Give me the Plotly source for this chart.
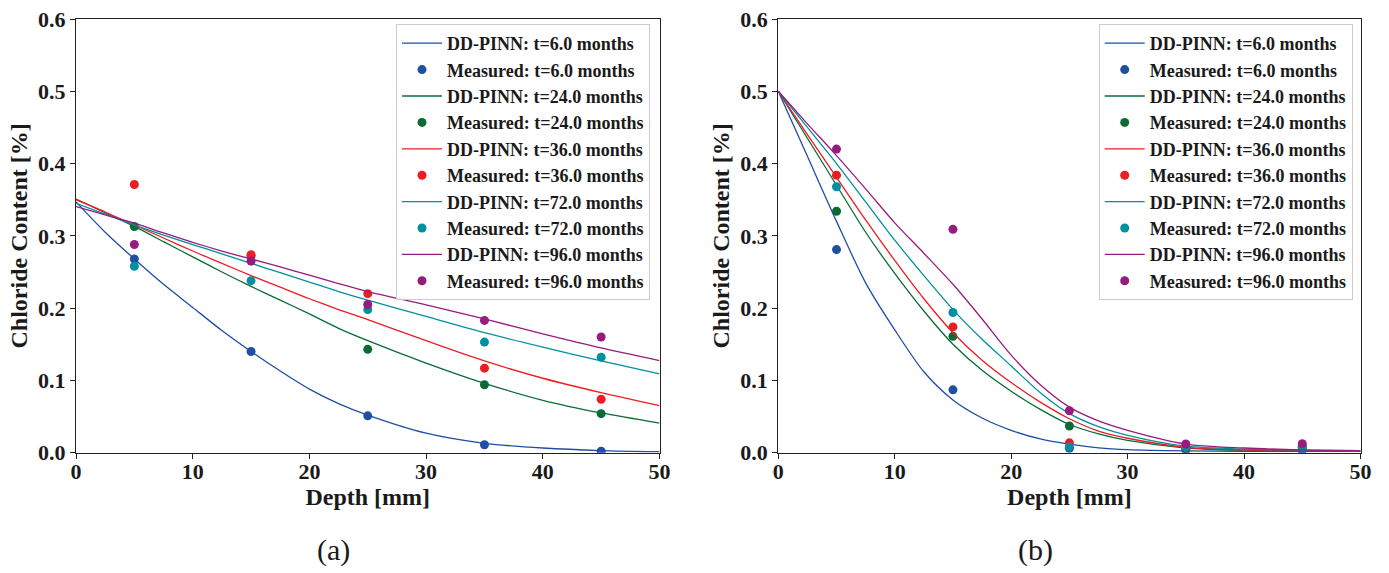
import plotly.graph_objects as go
from plotly.subplots import make_subplots

# ---------------------------------------------------------------- data
times = ["6.0", "24.0", "36.0", "72.0", "96.0"]
colors = ["#1f4fa3", "#0b6b34", "#ee1c25", "#0090a0", "#961c7e"]

depth_measured = [5, 15, 25, 35, 45]

# (a) DD-PINN profiles
depth_a = [0, 2.5, 5, 7.5, 10, 12.5, 15, 17.5, 20, 22.5, 25, 30, 35, 40, 45, 50]
pinn_a_6 = [0.347, 0.305, 0.268, 0.233, 0.201, 0.169, 0.140, 0.113, 0.088, 0.068, 0.052, 0.027, 0.013, 0.0065, 0.003, 0.0015]
pinn_a_24 = [0.351, 0.332, 0.313, 0.292, 0.271, 0.250, 0.230, 0.211, 0.192, 0.172, 0.155, 0.124, 0.096, 0.0725, 0.055, 0.041]
pinn_a_36 = [0.350, 0.333, 0.315, 0.297, 0.279, 0.262, 0.245, 0.229, 0.213, 0.198, 0.184, 0.155, 0.127, 0.103, 0.083, 0.065]
pinn_a_72 = [0.345, 0.330, 0.315, 0.301, 0.288, 0.275, 0.262, 0.249, 0.236, 0.223, 0.211, 0.1885, 0.166, 0.146, 0.127, 0.109]
pinn_a_96 = [0.3405, 0.329, 0.3175, 0.304, 0.291, 0.279, 0.268, 0.257, 0.2455, 0.234, 0.223, 0.2046, 0.185, 0.1645, 0.145, 0.1275]

# (a) measured chloride content
meas_a_6 = [0.268, 0.140, 0.051, 0.011, 0.002]
meas_a_24 = [0.313, 0.272, 0.143, 0.094, 0.054]
meas_a_36 = [0.371, 0.274, 0.220, 0.117, 0.074]
meas_a_72 = [0.258, 0.238, 0.198, 0.153, 0.132]
meas_a_96 = [0.288, 0.265, 0.205, 0.183, 0.160]

# (b) DD-PINN profiles
depth_b = [0, 2.5, 5, 7.5, 10, 12.5, 15, 17.5, 20, 22.5, 25, 27.5, 30, 35, 40, 45, 50]
pinn_b_6 = [0.500, 0.410, 0.320, 0.235, 0.170, 0.112, 0.073, 0.048, 0.031, 0.019, 0.0118, 0.0068, 0.0042, 0.0025, 0.002, 0.002, 0.002]
pinn_b_24 = [0.500, 0.435, 0.370, 0.305, 0.248, 0.196, 0.150, 0.114, 0.085, 0.060, 0.039, 0.026, 0.017, 0.0065, 0.0035, 0.003, 0.0025]
pinn_b_36 = [0.500, 0.440, 0.381, 0.322, 0.266, 0.213, 0.166, 0.128, 0.097, 0.070, 0.047, 0.030, 0.020, 0.0075, 0.004, 0.003, 0.0025]
pinn_b_72 = [0.500, 0.450, 0.400, 0.347, 0.294, 0.245, 0.198, 0.157, 0.120, 0.083, 0.054, 0.036, 0.024, 0.009, 0.005, 0.0035, 0.003]
pinn_b_96 = [0.500, 0.455, 0.411, 0.365, 0.318, 0.276, 0.233, 0.185, 0.135, 0.094, 0.063, 0.044, 0.031, 0.012, 0.0065, 0.004, 0.003]

# (b) measured chloride content
meas_b_6 = [0.281, 0.087, 0.006, 0.0035, 0.003]
meas_b_24 = [0.334, 0.161, 0.037, 0.006, 0.007]
meas_b_36 = [0.384, 0.174, 0.0136, 0.007, 0.008]
meas_b_72 = [0.368, 0.194, 0.008, 0.008, 0.009]
meas_b_96 = [0.420, 0.309, 0.058, 0.012, 0.0125]

x_ticks = [0, 10, 20, 30, 40, 50]
y_ticks = [0.0, 0.1, 0.2, 0.3, 0.4, 0.5, 0.6]

pinn_a = [pinn_a_6, pinn_a_24, pinn_a_36, pinn_a_72, pinn_a_96]
meas_a = [meas_a_6, meas_a_24, meas_a_36, meas_a_72, meas_a_96]
pinn_b = [pinn_b_6, pinn_b_24, pinn_b_36, pinn_b_72, pinn_b_96]
meas_b = [meas_b_6, meas_b_24, meas_b_36, meas_b_72, meas_b_96]

# ---------------------------------------------------------------- figure
SERIF = "Liberation Serif, Times New Roman, serif"
W, H = 1389, 573

fig = make_subplots(rows=1, cols=2)


def add_panel(col, depth, pinn, meas, legend_name):
    for t, c, yl, ym in zip(times, colors, pinn, meas):
        fig.add_trace(go.Scatter(
            x=depth, y=yl, mode="lines",
            line=dict(color=c, width=1.3, shape="spline", smoothing=0.8),
            name=f"DD-PINN: t={t} months", legend=legend_name,
        ), row=1, col=col)
        fig.add_trace(go.Scatter(
            x=depth_measured, y=ym, mode="markers",
            marker=dict(color=c, size=9),
            name=f"Measured: t={t} months", legend=legend_name,
        ), row=1, col=col)


add_panel(1, depth_a, pinn_a, meas_a, "legend")
add_panel(2, depth_b, pinn_b, meas_b, "legend2")

# plot-area placement in figure pixels
y_dom = [(H - 452.7) / H, (H - 19) / H]
x_dom_a = [76 / W, 659.5 / W]
x_dom_b = [778.3 / W, 1360.5 / W]

axis_common = dict(
    showline=True, mirror=True, linecolor="#222", linewidth=1.3,
    ticks="outside", ticklen=5, tickwidth=1.2, tickcolor="#222",
    showgrid=False, zeroline=False, automargin=False,
    tickfont=dict(family=SERIF, size=22, color="#1a1a1a", weight="bold"),
)
title_font = dict(family=SERIF, size=24, color="#1a1a1a", weight="bold")

for i, dom in ((1, x_dom_a), (2, x_dom_b)):
    fig.update_xaxes(
        domain=dom, range=[0, 50], tickvals=x_ticks, ticklabelstandoff=-6,
        title=dict(text="Depth [mm]", font=title_font, standoff=0),
        row=1, col=i, **axis_common,
    )
    fig.update_yaxes(
        domain=y_dom, range=[0, 0.6], tickvals=y_ticks, tickformat=".1f",
        title=dict(text="Chloride Content [%]", font=title_font, standoff=3),
        row=1, col=i, **axis_common,
    )

legend_style = dict(
    xanchor="right", yanchor="top",
    bgcolor="rgba(255,255,255,0.85)", bordercolor="#cccccc", borderwidth=1,
    font=dict(family=SERIF, size=18, color="#1a1a1a", weight="bold"),
    tracegroupgap=0, itemwidth=40,
)

fig.update_layout(
    width=W, height=H,
    margin=dict(l=0, r=0, t=0, b=0),
    paper_bgcolor="white", plot_bgcolor="white",
    showlegend=True,
    legend=dict(x=650 / W, y=(H - 24) / H, **legend_style),
    legend2=dict(x=1352.7 / W, y=(H - 24) / H, **legend_style),
    annotations=[
        dict(text="(a)", x=333 / W, y=(H - 550) / H, xref="paper", yref="paper",
             showarrow=False, xanchor="center", yanchor="middle",
             font=dict(family=SERIF, size=30, color="#1a1a1a")),
        dict(text="(b)", x=1035 / W, y=(H - 550) / H, xref="paper", yref="paper",
             showarrow=False, xanchor="center", yanchor="middle",
             font=dict(family=SERIF, size=30, color="#1a1a1a")),
    ],
)

fig.write_html("out.html")
